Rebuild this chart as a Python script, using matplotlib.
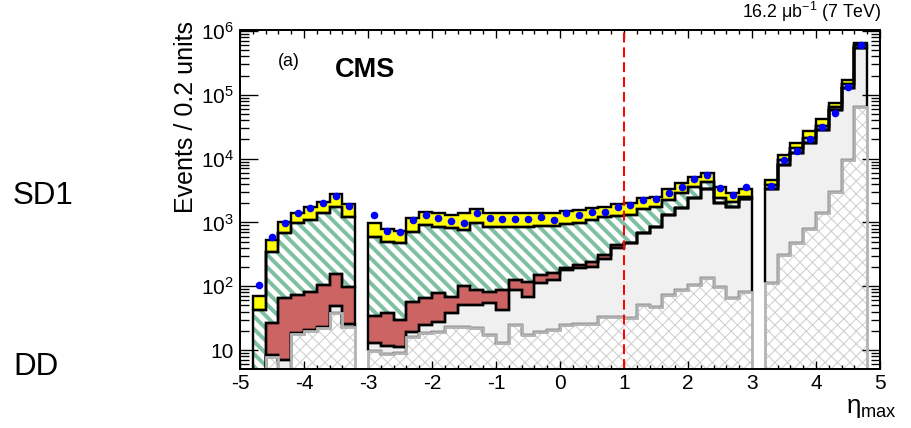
import numpy as np
import matplotlib
matplotlib.use('Agg')
import matplotlib.pyplot as plt
from matplotlib.ticker import AutoMinorLocator, LogLocator, NullFormatter

plt.rcParams['font.family'] = ['Liberation Sans', 'DejaVu Sans']
plt.rcParams['mathtext.fontset'] = 'custom'
plt.rcParams['mathtext.rm'] = 'Liberation Sans'
plt.rcParams['mathtext.it'] = 'Liberation Sans:italic'
plt.rcParams['mathtext.bf'] = 'Liberation Sans:bold'

# bin edges in eta_max, 0.2 units
edges = np.round(np.linspace(-5, 5, 51), 1)
nan = np.nan

# measured events per bin (blue points)
data_evts = [nan, 104, 598, 968, 1390, 1700, 1990, 2600, 1810, nan,
             1306, 743, 716, 1090, 1306, 1160, 1066, 991, 1390, 1160,
             1117, 1117, 1130, 1230, 1090, 1422, 1325, 1440, 1475, 1766,
             1875, 2245, 2300, 2857, 3634, 4733, 5540, 3420, 2690, 3550,
             nan, 3760, 9500, 13150, 20000, 30900, 51200, 134000, 603000, nan]

# cumulative tops of the stacked simulation (yellow = full stack)
top_yellow = [nan, 70, 531, 1030, 1420, 1766, 2115, 2790, 1945, nan,
              968, 780, 743, 1160, 1475, 1390, 1306, 1390, 1604, 1390,
              1390, 1390, 1390, 1430, 1430, 1528, 1560, 1664, 1766, 1923,
              1990, 2385, 2533, 3300, 4100, 5090, 6020, 3545, 2927, 3300,
              nan, 4600, 11400, 17700, 27000, 41700, 73400, 170000, 656000, nan]
top_green = [nan, 42, 348, 675, 968, 1092, 1390, 1770, 1200, nan,
             598, 499, 470, 716, 912, 859, 808, 761, 968, 859,
             859, 859, 859, 880, 880, 944, 990, 1090, 1202, 1261,
             1306, 1602, 1765, 2244, 2857, 3634, 4355, 2385, 2113, 2533,
             nan, 3900, 9500, 14500, 21000, 33000, 65000, 148000, 600000, nan]
top_red = [nan, 3, 26.8, 64.5, 73, 82, 104, 155, 96, nan,
           34, 37.6, 30, 57, 64.6, 77, 68.6, 100, 87, 82,
           87, 125, 118, 150, 159, 191, 215, 243, 308, 443,
           475, 675, 858, 1306, 1663, 2385, 3300, 1990, 1766, 2300,
           nan, 3300, 8000, 12100, 17800, 28000, 57700, 126000, 535000, nan]
top_grey = [nan, 2, 8.4, 7.0, 18.3, 20.6, 23, 49, 25.6, nan,
            12.7, 11.6, 11.3, 19.4, 24.7, 27.8, 37.6, 50.8, 50.8, 54,
            42.4, 87, 68.6, 111, 125, 180, 191, 202, 264, 393,
            470, 675, 858, 1306, 1663, 2385, 3300, 1990, 1766, 2300,
            nan, 3300, 8000, 12100, 17800, 28000, 57700, 126000, 535000, nan]
top_xhatch = [nan, 1, 7.8, 4, 18, 20, 22.5, 37.6, 23, nan,
              9.8, 8.7, 9.1, 15.8, 18.2, 19.4, 23, 23, 21.9, 17.5,
              12.7, 24.7, 17, 19.4, 20.6, 24.7, 25.6, 26, 33, 33,
              31.3, 50.7, 47.7, 72.8, 87, 104, 136, 98, 64.5, 82,
              nan, 111, 308, 481, 778, 1387, 3030, 9500, 65000, nan]

yticks = [10, 1e2, 1e3, 1e4, 1e5, 1e6]
ytick_labels = ['10', '10$^{2}$', '10$^{3}$', '10$^{4}$', '10$^{5}$', '10$^{6}$']
xticks = list(range(-5, 6))

DPI = 75
fig = plt.figure(figsize=(911 / DPI, 428 / DPI), dpi=DPI)
ax = fig.add_axes([240 / 911, 59 / 428, 640 / 911, 339 / 428])
ax.set_yscale('log')

floor = np.where(np.isnan(np.array(top_xhatch)), nan, 0.1)
layers = [
    (floor, top_xhatch, dict(facecolor='white', edgecolor='#cfcfcf', hatch='xx'), 1.0),
    (top_xhatch, top_grey, dict(facecolor='#f0f0f0', edgecolor='#f0f0f0'), 1.0),
    (top_grey, top_red, dict(facecolor='#cd6464', edgecolor='#cd6464'), 1.0),
    (top_red, top_green, dict(facecolor='white', edgecolor='#7fc0a2', hatch='\\\\'), 3.8),
    (top_green, top_yellow, dict(facecolor='#ffff00', edgecolor='#ffff00'), 1.0),
]

# filled layers
for lo, hi, style, hlw in layers:
    with plt.rc_context({'hatch.linewidth': hlw}):
        p = ax.stairs(np.array(hi, float), edges, baseline=np.array(lo, float),
                      fill=True, linewidth=0, zorder=1, **style)
    try:
        p.set_hatch_linewidth(hlw)
    except AttributeError:
        pass

# black outlines of the upper layers, grey outline of the cross-hatched one
for lo, hi, style, hlw in layers[1:]:
    ax.stairs(np.array(hi, float), edges, baseline=np.array(lo, float),
              fill=False, color='black', linewidth=2.3, zorder=2)
ax.stairs(np.array(top_xhatch, float), edges, baseline=floor,
          fill=False, color='#b4b4b4', linewidth=2.7, zorder=2.5)

ax.axvline(1, color='#ff0000', linestyle=(0, (5, 2.5)), linewidth=1.9, zorder=3)

centers = 0.5 * (edges[:-1] + edges[1:])
ax.plot(centers, data_evts, 'o', color='#0000ff', markersize=7.3,
        markeredgewidth=0, zorder=4)

ax.set_xlim(-5, 5)
ax.set_ylim(5.04, 1.037e6)
ax.set_xticks(xticks)
ax.set_xticklabels([str(v) for v in xticks])
ax.xaxis.set_minor_locator(AutoMinorLocator(5))
ax.set_yticks(yticks)
ax.set_yticklabels(ytick_labels)
ax.yaxis.set_minor_locator(LogLocator(base=10, subs=np.arange(2, 10), numticks=20))
ax.yaxis.set_minor_formatter(NullFormatter())

ax.tick_params(which='both', direction='in', top=True, right=True,
               width=1.3, labelsize=20, colors='black')
ax.tick_params(axis='x', which='major', length=8, pad=5)
ax.tick_params(axis='x', which='minor', length=4)
ax.tick_params(axis='y', which='major', length=17, pad=6)
ax.tick_params(axis='y', which='minor', length=9)
for sp in ax.spines.values():
    sp.set_linewidth(1.9)
    sp.set_zorder(5)

fig.text(186 / 911, 1 - 117 / 428, 'Events / 0.2 units', rotation=90,
         ha='center', va='center', fontsize=24)
fig.text(897 / 911, 1 - 413 / 428, 'η$_{\\mathrm{max}}$', ha='right',
         va='baseline', fontsize=25)
fig.text(289 / 911, 1 - 62 / 428, '(a)', ha='center', va='center', fontsize=17)
fig.text(365 / 911, 1 - 70 / 428, 'CMS', ha='center', va='center',
         fontsize=26, fontweight='bold')
fig.text(882 / 911, 1 - 12 / 428, '16.2 μb$^{-1}$ (7 TeV)', ha='right',
         va='center', fontsize=17)

fig.text(13 / 911, 1 - 196 / 428, 'SD1', ha='left', va='center', fontsize=30)
fig.text(13 / 911, 1 - 367 / 428, 'DD', ha='left', va='center', fontsize=30)

fig.savefig('out.png', dpi=DPI)
plt.close(fig)
